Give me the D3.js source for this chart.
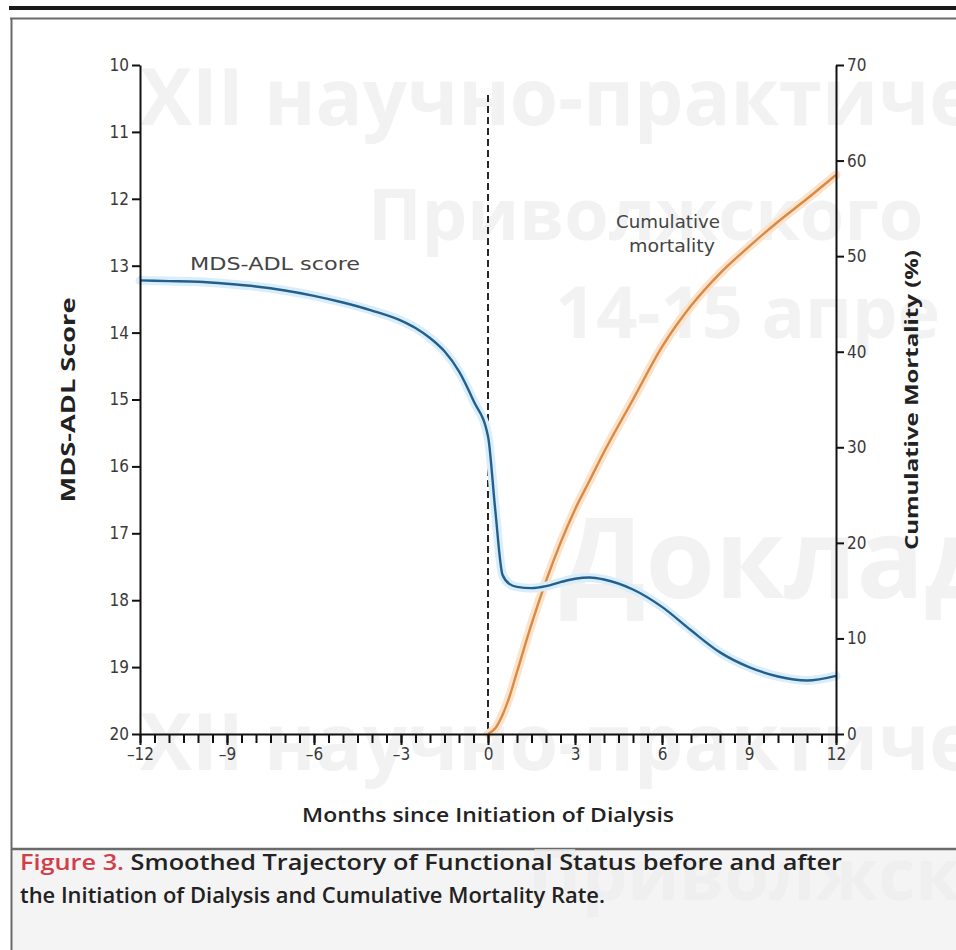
<!DOCTYPE html>
<html>
<head>
<meta charset="utf-8">
<script src="https://cdn.jsdelivr.net/npm/d3@7"></script>
<style>
  html, body { margin: 0; padding: 0; background: #fff; }
  svg { display: block; }
  .tick text { font-family: "Liberation Sans Narrow", "DejaVu Sans Condensed", "Roboto", sans-serif; fill: #3a3a3a; }
</style>
</head>
<body>
<svg id="chart" width="956" height="950"></svg>
<script>
// Months relative to the start of dialysis
const monthsAdl = [-12, -11, -10, -9, -8, -7, -6, -5, -4, -3, -2.5, -2, -1.5, -1, -0.5, 0,
                   0.25, 0.5, 0.75, 1, 1.5, 2, 2.5, 3, 3.5, 4, 5, 6, 7, 8, 9, 10, 11, 12];
// Smoothed MDS-ADL score (higher = worse function)
const adlScore = [13.22, 13.23, 13.24, 13.27, 13.31, 13.37, 13.45, 13.55, 13.67, 13.82, 13.93, 14.08, 14.28, 14.58, 15.02, 15.55,
                  16.65, 17.62, 17.76, 17.8, 17.82, 17.79, 17.73, 17.68, 17.66, 17.69, 17.84, 18.1, 18.45, 18.78, 19.0, 19.14, 19.2, 19.13];

const monthsMort = [0, 0.25, 0.5, 0.75, 1, 1.5, 2, 2.5, 3, 3.5, 4, 5, 6, 7, 8, 9, 10, 11, 12];
// Cumulative mortality, percent
const mortality = [0, 0.6, 2, 4, 6.5, 11.5, 16, 20, 23.5, 26.5, 29.5, 35, 40.5, 44.8, 48.2, 51, 53.6, 56, 58.5];

const leftTicks = [10, 11, 12, 13, 14, 15, 16, 17, 18, 19, 20];
const rightTicks = [0, 10, 20, 30, 40, 50, 60, 70];
const monthLabels = [-12, -9, -6, -3, 0, 3, 6, 9, 12];

const svg = d3.select("#chart");
const W = 956, H = 950;

// Panel frame and caption band
svg.append("rect").attr("x", 0).attr("y", 0).attr("width", W).attr("height", H).attr("fill", "#fff");
svg.append("rect").attr("x", 11).attr("y", 850).attr("width", W - 11).attr("height", H - 850).attr("fill", "#f4f4f4");
svg.append("rect").attr("x", 9).attr("y", 6).attr("width", W - 9).attr("height", 4).attr("fill", "#1a1a1a");
svg.append("line").attr("x1", 10).attr("x2", W).attr("y1", 18.5).attr("y2", 18.5).attr("stroke", "#6a6a6a").attr("stroke-width", 2);
svg.append("line").attr("x1", 11.5).attr("x2", 11.5).attr("y1", 18).attr("y2", H).attr("stroke", "#6a6a6a").attr("stroke-width", 2);
svg.append("line").attr("x1", 11).attr("x2", W).attr("y1", 849).attr("y2", 849).attr("stroke", "#6a6a6a").attr("stroke-width", 2.5);

// Faint conference watermark behind the figure
const wm = svg.append("g").attr("fill", "#ededed").attr("opacity", 0.7)
  .attr("font-family", "'Open Sans', 'DejaVu Sans', sans-serif").attr("font-weight", 700);
[
  {t: "XII научно-практиче", x: 140, y: 125, s: 78},
  {t: "Приволжского", x: 368, y: 240, s: 72},
  {t: "14-15 апре", x: 555, y: 338, s: 72},
  {t: "Доклад", x: 560, y: 598, s: 112},
  {t: "XII научно-практиче", x: 140, y: 770, s: 78},
  {t: "Приволжского", x: 528, y: 900, s: 72}
].forEach(d => wm.append("text").attr("x", d.x).attr("y", d.y).attr("font-size", d.s).text(d.t));

const x = d3.scaleLinear().domain([-12, 12]).range([140, 836]);
const yL = d3.scaleLinear().domain([10, 20]).range([65, 734]);
const yR = d3.scaleLinear().domain([0, 70]).range([734, 65]);

// Dialysis start marker
svg.append("line").attr("x1", x(0)).attr("x2", x(0)).attr("y1", 95).attr("y2", yL(20))
  .attr("stroke", "#111").attr("stroke-width", 1.8).attr("stroke-dasharray", "7,4");

// Mortality curve with its light band
const mortLine = d3.line().x((d, i) => x(monthsMort[i])).y(d => yR(d)).curve(d3.curveMonotoneX);
svg.append("path").attr("d", mortLine(mortality)).attr("fill", "none")
  .attr("stroke", "#fbe3cc").attr("stroke-width", 9).attr("stroke-linecap", "round");
svg.append("path").attr("d", mortLine(mortality)).attr("fill", "none")
  .attr("stroke", "#d98a45").attr("stroke-width", 2.4);

// MDS-ADL curve with its light band
const adlLine = d3.line().x((d, i) => x(monthsAdl[i])).y(d => yL(d)).curve(d3.curveMonotoneX);
svg.append("path").attr("d", adlLine(adlScore)).attr("fill", "none")
  .attr("stroke", "#d9eefa").attr("stroke-width", 9).attr("stroke-linecap", "round");
svg.append("path").attr("d", adlLine(adlScore)).attr("fill", "none")
  .attr("stroke", "#245f8c").attr("stroke-width", 2.4);

// Axes
const axisStyle = g => {
  g.select(".domain").attr("stroke", "#111").attr("stroke-width", 2);
  g.selectAll(".tick line").attr("stroke", "#111").attr("stroke-width", 2);
  g.selectAll(".tick text").attr("font-size", 17);
};
const fmtNum = v => v < 0 ? "\u2013" + Math.abs(v) : String(v);

svg.append("g").attr("transform", `translate(${x(-12)},0)`)
  .call(d3.axisLeft(yL).tickValues(leftTicks).tickSize(8).tickPadding(3).tickSizeOuter(0).tickFormat(d => d))
  .call(axisStyle);

svg.append("g").attr("transform", `translate(${x(12)},0)`)
  .call(d3.axisRight(yR).tickValues(rightTicks).tickSize(8).tickPadding(3).tickSizeOuter(0).tickFormat(d => d))
  .call(axisStyle);

const halfMonths = d3.range(-12, 12.01, 0.5);
svg.append("g").attr("transform", `translate(0,${yL(20)})`)
  .call(d3.axisBottom(x).tickValues(halfMonths).tickSize(9).tickSizeOuter(0).tickFormat(""))
  .call(axisStyle);
svg.append("g").attr("transform", `translate(0,${yL(20)})`)
  .call(d3.axisBottom(x).tickValues(monthLabels).tickSize(11).tickPadding(3).tickSizeOuter(0).tickFormat(fmtNum))
  .call(axisStyle)
  .call(g => g.select(".domain").remove());

// Axis titles
const titleFont = "'Open Sans', 'DejaVu Sans', sans-serif";
svg.append("text").attr("transform", "translate(75,400) rotate(-90)")
  .attr("text-anchor", "middle").attr("font-family", titleFont).attr("font-weight", 700)
  .attr("font-size", 19).attr("fill", "#222")
  .attr("textLength", 205).attr("lengthAdjust", "spacingAndGlyphs").text("MDS-ADL Score");
svg.append("text").attr("transform", "translate(918,400) rotate(-90)")
  .attr("text-anchor", "middle").attr("font-family", titleFont).attr("font-weight", 700)
  .attr("font-size", 18).attr("fill", "#222")
  .attr("textLength", 300).attr("lengthAdjust", "spacingAndGlyphs").text("Cumulative Mortality (%)");
svg.append("text").attr("x", 488).attr("y", 822)
  .attr("text-anchor", "middle").attr("font-family", titleFont).attr("font-weight", 600)
  .attr("font-size", 19).attr("fill", "#222")
  .attr("textLength", 372).attr("lengthAdjust", "spacingAndGlyphs").text("Months since Initiation of Dialysis");

// Series labels
const lblFont = "'Liberation Sans Narrow', 'DejaVu Sans Condensed', sans-serif";
svg.append("text").attr("x", 190).attr("y", 270).attr("font-family", lblFont)
  .attr("font-size", 18).attr("fill", "#444")
  .attr("textLength", 170).attr("lengthAdjust", "spacingAndGlyphs").text("MDS-ADL score");
svg.append("text").attr("x", 668).attr("y", 228).attr("text-anchor", "middle").attr("font-family", lblFont)
  .attr("font-size", 17).attr("fill", "#444")
  .attr("textLength", 104).attr("lengthAdjust", "spacingAndGlyphs").text("Cumulative");
svg.append("text").attr("x", 672).attr("y", 252).attr("text-anchor", "middle").attr("font-family", lblFont)
  .attr("font-size", 17).attr("fill", "#444")
  .attr("textLength", 86).attr("lengthAdjust", "spacingAndGlyphs").text("mortality");

// Caption
const cap = svg.append("g").attr("font-family", titleFont).attr("font-weight", 600)
  .attr("font-size", 21).attr("fill", "#222");
const l1 = cap.append("text").attr("x", 20).attr("y", 870)
  .attr("textLength", 822).attr("lengthAdjust", "spacingAndGlyphs");
l1.append("tspan").attr("fill", "#d0404a").text("Figure 3. ");
l1.append("tspan").text("Smoothed Trajectory of Functional Status before and after");
cap.append("text").attr("x", 20).attr("y", 903)
  .attr("textLength", 585).attr("lengthAdjust", "spacingAndGlyphs")
  .text("the Initiation of Dialysis and Cumulative Mortality Rate.");
</script>
</body>
</html>
